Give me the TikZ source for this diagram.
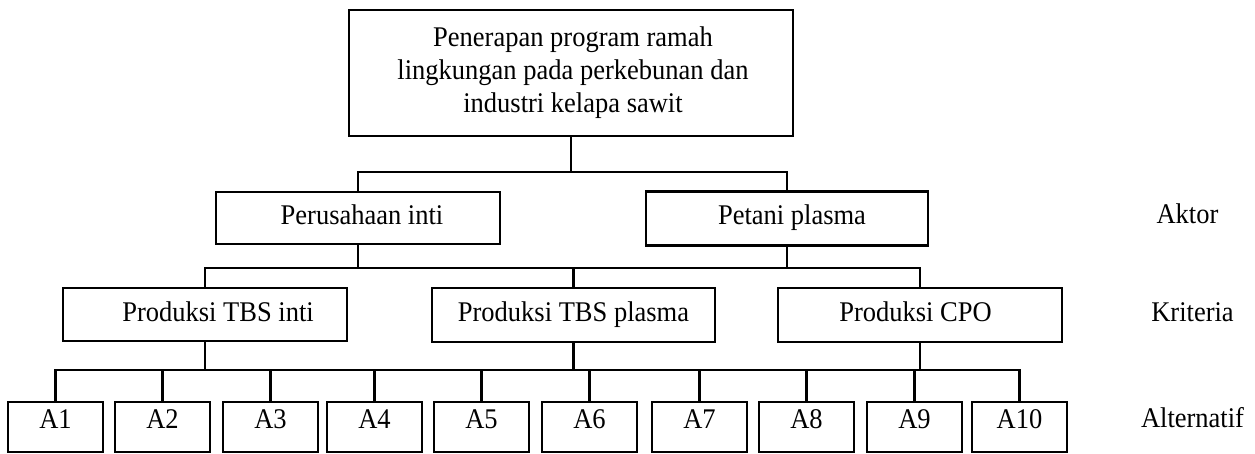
\documentclass[tikz,border=0pt]{standalone}
\usepackage{fontspec}
\setmainfont{Liberation Serif}[FakeStretch=0.93]
\begin{document}
\begin{tikzpicture}[x=1pt,y=-1pt,
  every node/.style={font=\fontsize{28.5}{33}\selectfont, inner sep=0pt},
  box/.style={draw, line width=2.7pt, rectangle, text height=18.5pt, text depth=5.5pt},
  altbox/.style={box, minimum width=95pt, minimum height=50pt, text height=18.5pt, text depth=16.5pt},
  conn/.style={line width=2.7pt},
  lbl/.style={anchor=base}]
\useasboundingbox (0,0) rectangle (1255,454);
% top
\node[draw, line width=2.7pt, minimum width=444pt, minimum height=126pt, align=center] (top) at (571,73)
  {\hspace*{4pt}Penerapan program ramah\\\hspace*{4pt}lingkungan pada perkebunan dan\\\hspace*{4pt}industri kelapa sawit};
% actors
\node[box, minimum width=284pt, minimum height=52pt] (P1) at (358,218) {\hspace*{8pt}Perusahaan inti};
\node[box, minimum width=282pt, minimum height=54pt] (P2) at (787,218.5) {\hspace*{10pt}Petani plasma};
% criteria
\node[box, minimum width=284pt, minimum height=53pt] (K1) at (205,314.5) {\hspace*{26pt}Produksi TBS inti};
\node[box, minimum width=283pt, minimum height=54pt] (K2) at (573.5,315) {Produksi TBS plasma};
\node[box, minimum width=284pt, minimum height=54pt] (K3) at (920,315) {Produksi CPO\hspace*{9pt}};
% alternatives
\foreach \i/\x in {1/55.5,2/162.5,3/270.5,4/374.5,5/481.5,6/589.5,7/699.5,8/806.5,9/914.5,10/1019.5}{
  \node[altbox] (A\i) at (\x,427) {A\i};
}
% labels
\node[lbl] (lakt) at (1187.5,224) {Aktor};
\node[lbl] (lkri) at (1192.5,321) {Kriteria};
\node[lbl] (lalt) at (1192.5,427) {Alternatif};
% connectors level 1
\coordinate (b1) at (571,172);
\draw[conn] (top.south) -- (top.south |- b1);
\draw[conn] (P1.north) |- (b1) -| (P2.north);
% level 2
\coordinate (b2) at (571,268);
\draw[conn] (P1.south) -- (P1.south |- b2);
\draw[conn] (P2.south) -- (P2.south |- b2);
\draw[conn] (K1.north) |- (b2) -| (K3.north);
\draw[conn] (K2.north) -- (K2.north |- b2);
% level 3
\coordinate (b3) at (571,370);
\draw[conn] (K1.south) -- (K1.south |- b3);
\draw[conn] (K2.south) -- (K2.south |- b3);
\draw[conn] (K3.south) -- (K3.south |- b3);
\draw[conn] (A1.north) |- (b3) -| (A10.north);
\foreach \i in {2,...,9}{
  \draw[conn] (A\i.north) -- (A\i.north |- b3);
}
\end{tikzpicture}
\end{document}
